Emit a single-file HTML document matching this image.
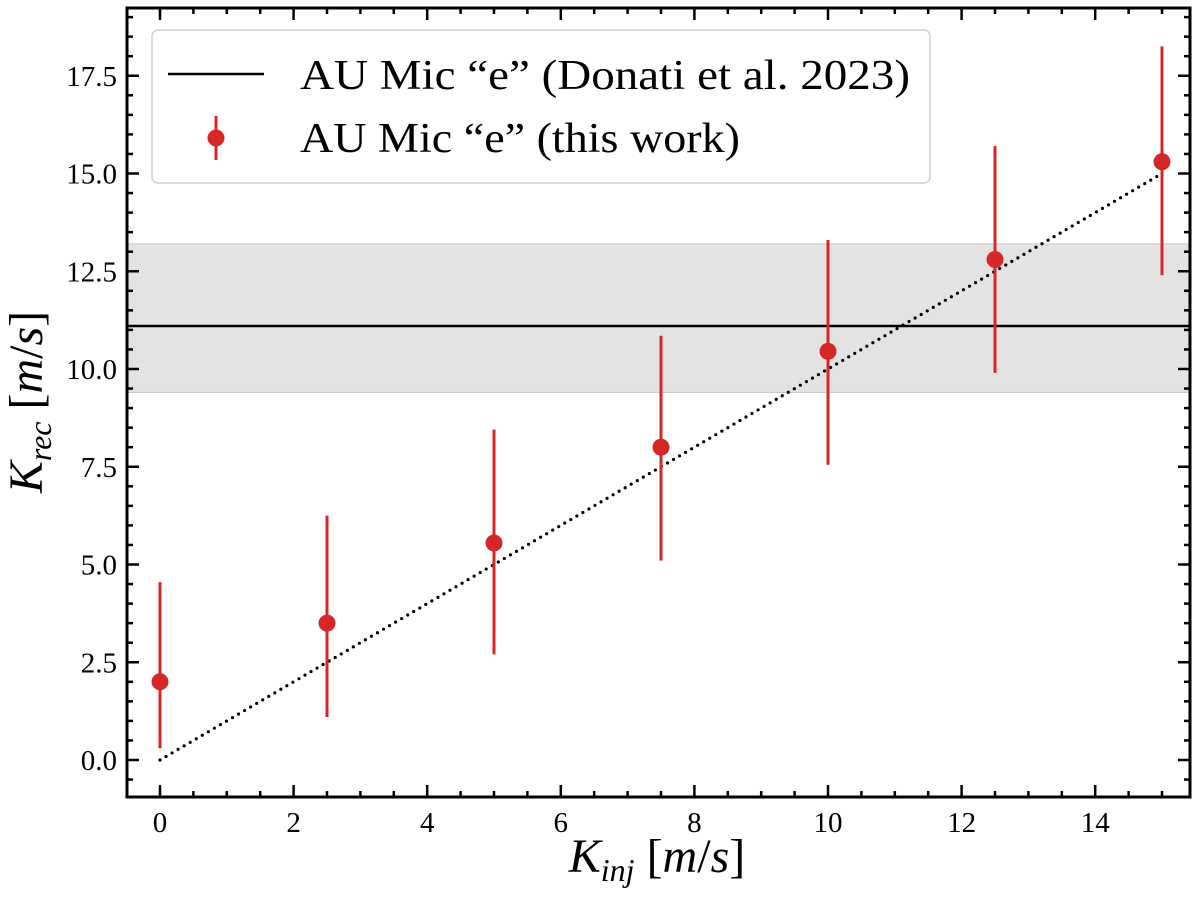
<!DOCTYPE html>
<html><head><meta charset="utf-8"><style>
html,body{margin:0;padding:0;background:#fff;}
svg text{font-family:"Liberation Serif",serif;fill:#000;}
</style></head><body>
<svg id="chart" width="1200" height="898" xmlns="http://www.w3.org/2000/svg">
<g id="plot"></g>
</svg>
<script>
const categories=[0,2.5,5,7.5,10,12.5,15];
const krec=[2.0,3.5,5.55,8.0,10.45,12.8,15.3];
const errLow=[0.3,1.1,2.7,5.1,7.55,9.9,12.4];
const errHigh=[4.55,6.25,8.45,10.85,13.3,15.7,18.25];
const xTicks=[0,2,4,6,8,10,12,14];
const yTicks=[0,2.5,5,7.5,10,12.5,15,17.5];
const refK=11.1, refLow=9.4, refHigh=13.2;

const L=127,R=1190,T=8,B=797;
const x0=160, xs=66.8, y0=760, ys=39.1;
const X=v=>x0+v*xs, Y=v=>y0-v*ys;
const NS="http://www.w3.org/2000/svg";
const g=document.getElementById('plot');
function el(t,a){const e=document.createElementNS(NS,t);for(const k in a)e.setAttribute(k,a[k]);g.appendChild(e);return e;}

let e=el('rect',{x:L,y:Y(refHigh),width:R-L,height:Y(refLow)-Y(refHigh),fill:'#e3e3e3',stroke:'#c8c8c8','stroke-width':1});

e=el('line',{x1:L,x2:R,y1:Y(refK),y2:Y(refK),stroke:'#000','stroke-width':2.5});

e=el('line',{x1:X(0),y1:Y(0),x2:X(15),y2:Y(15),stroke:'#000','stroke-width':3.2,'stroke-dasharray':'0 7','stroke-linecap':'round'});


categories.forEach((c,i)=>{
  let l=el('line',{x1:X(c),x2:X(c),y1:Y(errLow[i]),y2:Y(errHigh[i]),stroke:'#d62728','stroke-width':3});
  
  let p=el('circle',{cx:X(c),cy:Y(krec[i]),r:8.5,fill:'#d62728'});
  
});

for(let v=-0.5;v<=15.4;v+=0.5){
  const major=xTicks.includes(v), len=major?12:6, px=X(v);
  if(px<L||px>R)continue;
  el('line',{x1:px,x2:px,y1:B,y2:B-len,stroke:'#000','stroke-width':2.5});
  el('line',{x1:px,x2:px,y1:T,y2:T+len,stroke:'#000','stroke-width':2.5});
}
for(let v=-0.5;v<=19;v+=0.5){
  const major=yTicks.includes(v), len=major?12:6, py=Y(v);
  if(py<T||py>B)continue;
  el('line',{x1:L,x2:L+len,y1:py,y2:py,stroke:'#000','stroke-width':2.5});
  el('line',{x1:R,x2:R-len,y1:py,y2:py,stroke:'#000','stroke-width':2.5});
}
xTicks.forEach(v=>{let t=el('text',{x:X(v),y:B+35,'font-size':29,'text-anchor':'middle'});t.textContent=v;
  });
yTicks.forEach(v=>{let t=el('text',{x:L-10,y:Y(v)+10,'font-size':29,'text-anchor':'end'});t.textContent=v.toFixed(1);
  });

e=el('rect',{x:L,y:T,width:R-L,height:B-T,fill:'none',stroke:'#000','stroke-width':3});


let xt=el('text',{x:657,y:872,'font-size':48,'text-anchor':'middle'});
xt.innerHTML='<tspan font-style="italic">K</tspan><tspan font-style="italic" font-size="32" dy="9">inj</tspan><tspan dy="-9"> [</tspan><tspan font-style="italic">m</tspan>/<tspan font-style="italic">s</tspan>]';

let yt=el('text',{x:0,y:0,'font-size':48,'text-anchor':'middle',transform:'translate(42,402) rotate(-90)'});
yt.innerHTML='<tspan font-style="italic">K</tspan><tspan font-style="italic" font-size="32" dy="9">rec</tspan><tspan dy="-9"> [</tspan><tspan font-style="italic">m</tspan>/<tspan font-style="italic">s</tspan>]';


e=el('rect',{x:152,y:30,width:778,height:153,rx:6,fill:'#fff','fill-opacity':0.85,stroke:'#d0d0d0','stroke-width':1.5});

el('line',{x1:168,x2:264,y1:74,y2:74,stroke:'#000','stroke-width':2.5});
let t1=el('text',{x:300,y:89,'font-size':42,textLength:610,lengthAdjust:'spacingAndGlyphs'});t1.textContent='AU Mic \u201ce\u201d (Donati et al. 2023)';

el('line',{x1:216,x2:216,y1:116,y2:160,stroke:'#d62728','stroke-width':3});
el('circle',{cx:216,cy:138,r:8.5,fill:'#d62728'});
let t2=el('text',{x:300,y:152,'font-size':42,textLength:440,lengthAdjust:'spacingAndGlyphs'});t2.textContent='AU Mic \u201ce\u201d (this work)';

</script>
</body></html>
